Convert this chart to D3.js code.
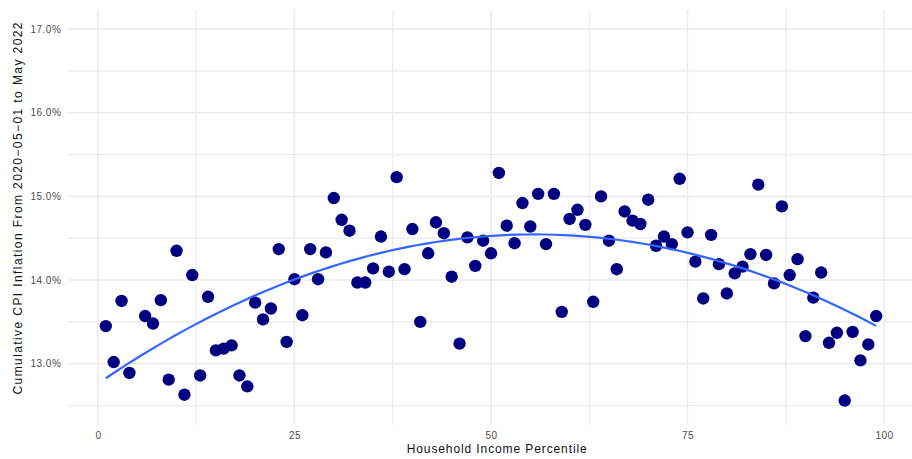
<!DOCTYPE html>
<html>
<head>
<meta charset="utf-8">
<script src="https://cdn.jsdelivr.net/npm/d3@7"></script>
<style>
  body { margin: 0; background: #fff; }
  text { font-family: "Liberation Sans", Arial, sans-serif; }
</style>
</head>
<body>
<div id="chart"></div>
<script>
// household income percentile (5 is absent in the source)
const percentiles = [1, 2, 3, 4, 6, 7, 8, 9, 10, 11, 12, 13, 14, 15, 16, 17, 18, 19, 20,
    21, 22, 23, 24, 25, 26, 27, 28, 29, 30, 31, 32, 33, 34, 35, 36, 37, 38, 39, 40,
    41, 42, 43, 44, 45, 46, 47, 48, 49, 50, 51, 52, 53, 54, 55, 56, 57, 58, 59, 60,
    61, 62, 63, 64, 65, 66, 67, 68, 69, 70, 71, 72, 73, 74, 75, 76, 77, 78, 79, 80,
    81, 82, 83, 84, 85, 86, 87, 88, 89, 90, 91, 92, 93, 94, 95, 96, 97, 98, 99];

// cumulative CPI inflation, percent
const inflation = [13.45, 13.02, 13.75, 12.89, 13.57, 13.48, 13.76, 12.81, 14.35, 12.63,
    14.06, 12.86, 13.80, 13.16, 13.18, 13.22, 12.86, 12.73, 13.73,
    13.53, 13.66, 14.37, 13.26, 14.01, 13.58, 14.37, 14.01, 14.33, 14.98,
    14.72, 14.59, 13.97, 13.97, 14.14, 14.52, 14.10, 15.23, 14.13, 14.61,
    13.50, 14.32, 14.69, 14.56, 14.04, 13.24, 14.51, 14.17, 14.47, 14.32,
    15.28, 14.65, 14.44, 14.92, 14.64, 15.03, 14.43, 15.03, 13.62, 14.73,
    14.84, 14.66, 13.74, 15.00, 14.47, 14.13, 14.82, 14.71, 14.67, 14.96,
    14.41, 14.52, 14.43, 15.21, 14.57, 14.22, 13.78, 14.54, 14.19, 13.84,
    14.08, 14.16, 14.31, 15.14, 14.30, 13.96, 14.88, 14.06, 14.25, 13.33,
    13.79, 14.09, 13.25, 13.37, 12.56, 13.38, 13.04, 13.23, 13.57];

const xTicks = [0, 25, 50, 75, 100];
const xMinor = [12.5, 37.5, 62.5, 87.5];
const yTicks = [13, 14, 15, 16, 17];
const yMinor = [12.5, 13.5, 14.5, 15.5, 16.5];

const data = percentiles.map((p, i) => ({ x: p, y: inflation[i] }));

const W = 912, H = 459;
const x = d3.scaleLinear().domain([-3.9, 103.9]).range([67.3, 914.7]);
const y = d3.scaleLinear().domain([12.275, 17.225]).range([424.4, 10.2]);

const svg = d3.select("#chart").append("svg")
    .attr("width", W).attr("height", H);

// grid
const grid = svg.append("g");
grid.selectAll(".ymin").data(yMinor).enter().append("line")
    .attr("x1", x.range()[0]).attr("x2", x.range()[1])
    .attr("y1", d => y(d)).attr("y2", d => y(d))
    .attr("stroke", "#ebebeb").attr("stroke-width", 1.2);
grid.selectAll(".xmin").data(xMinor).enter().append("line")
    .attr("y1", y.range()[0]).attr("y2", y.range()[1])
    .attr("x1", d => x(d)).attr("x2", d => x(d))
    .attr("stroke", "#ebebeb").attr("stroke-width", 1.2);
grid.selectAll(".ymaj").data(yTicks).enter().append("line")
    .attr("x1", x.range()[0]).attr("x2", x.range()[1])
    .attr("y1", d => y(d)).attr("y2", d => y(d))
    .attr("stroke", "#ebebeb").attr("stroke-width", 1.6);
grid.selectAll(".xmaj").data(xTicks).enter().append("line")
    .attr("y1", y.range()[0]).attr("y2", y.range()[1])
    .attr("x1", d => x(d)).attr("x2", d => x(d))
    .attr("stroke", "#ebebeb").attr("stroke-width", 1.6);

// axes without lines or ticks
const xAxis = svg.append("g")
    .attr("transform", `translate(0,${y.range()[0]})`)
    .call(d3.axisBottom(x).tickValues(xTicks).tickSize(0).tickPadding(8));
const yAxis = svg.append("g")
    .attr("transform", `translate(${x.range()[0]},0)`)
    .call(d3.axisLeft(y).tickValues(yTicks).tickSize(0).tickPadding(6)
        .tickFormat(d => d.toFixed(1) + "%"));
[xAxis, yAxis].forEach(g => {
    g.select(".domain").remove();
    g.selectAll("text")
        .attr("fill", "#4d4d4d")
        .style("font-size", "10px")
        .style("letter-spacing", "0.5px")
        .style("font-family", "'Liberation Sans', Arial, sans-serif");
});

// quadratic least-squares smoother (lm, y ~ poly(x, 2))
function quadFit(pts, xs) {
    const S = [[0, 0, 0], [0, 0, 0], [0, 0, 0]];
    const b = [0, 0, 0];
    pts.forEach(p => {
        const v = [1, p.x, p.x * p.x];
        for (let r = 0; r < 3; r++) {
            b[r] += v[r] * p.y;
            for (let c = 0; c < 3; c++) S[r][c] += v[r] * v[c];
        }
    });
    const M = S.map((row, r) => row.concat([b[r]]));
    for (let i = 0; i < 3; i++) {
        let piv = i;
        for (let r = i + 1; r < 3; r++) if (Math.abs(M[r][i]) > Math.abs(M[piv][i])) piv = r;
        [M[i], M[piv]] = [M[piv], M[i]];
        for (let r = i + 1; r < 3; r++) {
            const f = M[r][i] / M[i][i];
            for (let c = i; c < 4; c++) M[r][c] -= f * M[i][c];
        }
    }
    const sol = [0, 0, 0];
    for (let i = 2; i >= 0; i--) {
        let s = M[i][3];
        for (let c = i + 1; c < 3; c++) s -= M[i][c] * sol[c];
        sol[i] = s / M[i][i];
    }
    return xs.map(x0 => ({ x: x0, y: sol[0] + sol[1] * x0 + sol[2] * x0 * x0 }));
}

const xExt = d3.extent(data, d => d.x);
const xs = d3.range(80).map(i => xExt[0] + (xExt[1] - xExt[0]) * i / 79);
const smooth = quadFit(data, xs);

// points
svg.append("g").selectAll("circle")
    .data(data)
    .enter().append("circle")
    .attr("cx", d => x(d.x))
    .attr("cy", d => y(d.y))
    .attr("r", 6.2)
    .attr("fill", "#000080");

svg.append("path")
    .datum(smooth)
    .attr("fill", "none")
    .attr("stroke", "#3366ff")
    .attr("stroke-width", 2.2)
    .attr("d", d3.line().x(d => x(d.x)).y(d => y(d.y)));

// axis titles
svg.append("text")
    .attr("x", 496.7)
    .attr("y", 453)
    .attr("text-anchor", "middle")
    .attr("textLength", 180)
    .attr("lengthAdjust", "spacing")
    .style("font-size", "12px")
    .attr("fill", "#111")
    .text("Household Income Percentile");

svg.append("text")
    .attr("transform", "translate(22,208.5) rotate(-90)")
    .attr("text-anchor", "middle")
    .attr("textLength", 372)
    .attr("lengthAdjust", "spacing")
    .style("font-size", "12px")
    .attr("fill", "#111")
    .text("Cumulative CPI Inflation From 2020\u221205\u221201 to May 2022");
</script>
</body>
</html>
